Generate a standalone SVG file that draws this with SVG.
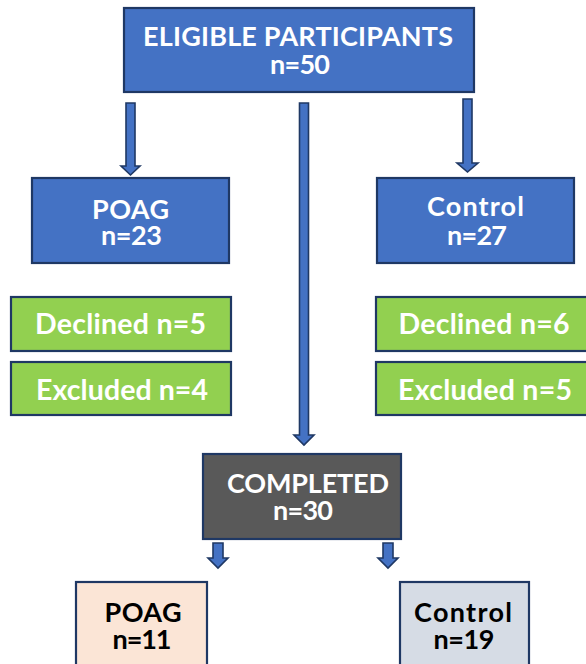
<svg xmlns="http://www.w3.org/2000/svg" width="586" height="664" viewBox="0 0 586 664">
  <style>
    .box { stroke: #1f3864; stroke-width: 2.2; }
    .blue { fill: #4472c4; }
    .green { fill: #92d050; }
    .grey { fill: #595959; }
    .peach { fill: #fbe5d6; }
    .slate { fill: #d6dce5; }
    .arrow { fill: #4472c4; stroke: #1f3864; stroke-width: 1.6; stroke-linejoin: miter; }
    text { font-family: Lato, "Liberation Sans", Arial, sans-serif; font-weight: bold; font-size: 27px; text-anchor: middle; }
    .single { font-size: 28.5px; }
    .w { fill: #ffffff; }
    .k { fill: #000000; }
  </style>

  <rect width="586" height="664" fill="#ffffff"/>

  <!-- connectors: block arrows -->
  <g id="connectors">
    <polygon class="arrow" points="126,103 135,103 135,166 140,166 130.5,175 121,166 126,166"/>
    <polygon class="arrow" points="463,99 472,99 472,163 478,163 467.5,172 457,163 463,163"/>
    <polygon class="arrow" points="299.5,103 308.5,103 308.5,435 314,435 304,445 294,435 299.5,435"/>
    <polygon class="arrow" points="213,543 223,543 223,558 228,558 218,568 208,558 213,558"/>
    <polygon class="arrow" points="383,543 393,543 393,558 398,558 388,568 378,558 383,558"/>
  </g>

  <g id="eligible">
    <rect class="box blue" x="124" y="8" width="350" height="84"/>
    <text class="w" x="298" y="46" textLength="310">ELIGIBLE PARTICIPANTS</text>
    <text class="w" x="300" y="74" textLength="60">n=50</text>
  </g>

  <g id="poag">
    <rect class="box blue" x="32" y="178" width="197" height="85"/>
    <text class="w" x="130.5" y="219" textLength="77">POAG</text>
    <text class="w" x="131.5" y="245" textLength="61">n=23</text>
  </g>

  <g id="control">
    <rect class="box blue" x="377" y="178" width="197" height="85"/>
    <text class="w" x="475.5" y="216" textLength="97">Control</text>
    <text class="w" x="477" y="245" textLength="60">n=27</text>
  </g>

  <g id="poag-declined">
    <rect class="box green" x="11" y="297" width="220" height="54"/>
    <text class="w single" x="120.5" y="334" textLength="171">Declined n=5</text>
  </g>

  <g id="poag-excluded">
    <rect class="box green" x="11" y="362" width="220" height="53"/>
    <text class="w single" x="122" y="400" textLength="172">Excluded n=4</text>
  </g>

  <g id="control-declined">
    <rect class="box green" x="376" y="297" width="220" height="54"/>
    <text class="w single" x="484" y="334" textLength="171">Declined n=6</text>
  </g>

  <g id="control-excluded">
    <rect class="box green" x="376" y="362" width="220" height="53"/>
    <text class="w single" x="485" y="400" textLength="174">Excluded n=5</text>
  </g>

  <g id="completed">
    <rect class="box grey" x="203" y="454" width="198" height="85"/>
    <text class="w" x="308" y="493" textLength="162">COMPLETED</text>
    <text class="w" x="303" y="520" textLength="60">n=30</text>
  </g>

  <g id="poag-final">
    <rect class="box peach" x="76" y="582" width="131" height="90"/>
    <text class="k" x="143" y="622" textLength="77">POAG</text>
    <text class="k" x="142" y="649" textLength="59">n=11</text>
  </g>

  <g id="control-final">
    <rect class="box slate" x="400" y="582" width="129" height="90"/>
    <text class="k" x="463" y="622" textLength="98">Control</text>
    <text class="k" x="464" y="649" textLength="61">n=19</text>
  </g>
</svg>
